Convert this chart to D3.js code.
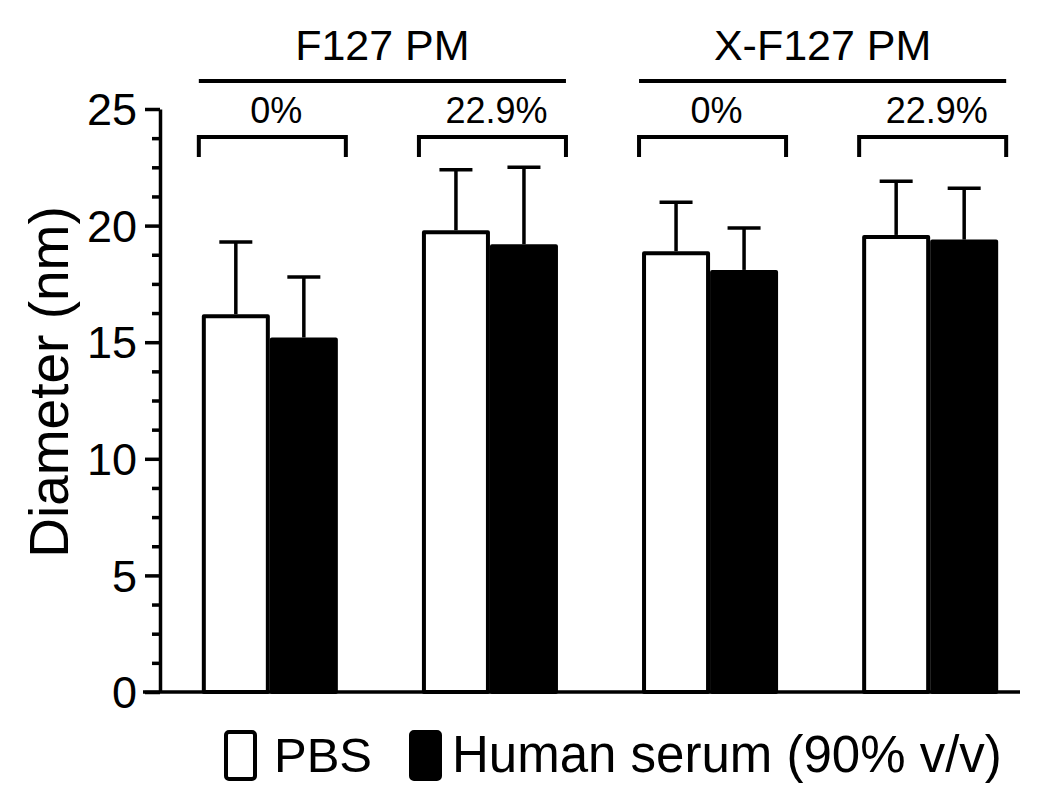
<!DOCTYPE html>
<html>
<head>
<meta charset="utf-8">
<script src="https://cdn.jsdelivr.net/npm/d3@7"></script>
<style>
  body { margin: 0; background: #fff; }
  text { font-family: "Liberation Sans", Arial, Helvetica, sans-serif; fill: #000; }
</style>
</head>
<body>
<div id="chart"></div>
<script>
// data
var families = ['F127 PM', 'X-F127 PM']
var loadings = ['0%', '22.9%', '0%', '22.9%']
var seriesNames = ['PBS', 'Human serum (90% v/v)']
var pbsMean = [16.2, 19.8, 18.9, 19.6]
var pbsSD = [3.1, 2.6, 2.1, 2.3]
var serumMean = [15.2, 19.2, 18.1, 19.4]
var serumSD = [2.6, 3.3, 1.8, 2.2]
var majorTicks = [0, 5, 10, 15, 20, 25]

var width = 1050
var height = 803

var svg = d3.select('#chart').append('svg')
    .attr('width', width)
    .attr('height', height)

var groupIds = loadings.map(function(d, i) { return 'g' + i })

var x = d3.scaleBand()
    .domain(groupIds)
    .range([160, 1040])
    .paddingInner(0.382)
    .paddingOuter(0.19)

var xSeries = d3.scaleBand()
    .domain(seriesNames)
    .range([0, x.bandwidth()])

var y = d3.scaleLinear()
    .domain([0, 25])
    .range([692, 109])

// rows for the bars
var rows = []
groupIds.forEach(function(g, i) {
    rows.push({ group: g, series: seriesNames[0], mean: pbsMean[i], sd: pbsSD[i] })
    rows.push({ group: g, series: seriesNames[1], mean: serumMean[i], sd: serumSD[i] })
})

var color = d3.scaleOrdinal().domain(seriesNames).range(['#fff', '#000'])

// error bars (upper only), drawn first so the bar outline covers the foot
var err = svg.append('g')
err.selectAll('line.v')
    .data(rows)
    .enter().append('line')
    .attr('x1', function(d) { return x(d.group) + xSeries(d.series) + xSeries.bandwidth() / 2 })
    .attr('x2', function(d) { return x(d.group) + xSeries(d.series) + xSeries.bandwidth() / 2 })
    .attr('y1', function(d) { return y(d.mean) })
    .attr('y2', function(d) { return y(d.mean + d.sd) })
    .attr('stroke', '#000')
    .attr('stroke-width', 3.5)
err.selectAll('line.cap')
    .data(rows)
    .enter().append('line')
    .attr('x1', function(d) { return x(d.group) + xSeries(d.series) + xSeries.bandwidth() / 2 - 16.5 })
    .attr('x2', function(d) { return x(d.group) + xSeries(d.series) + xSeries.bandwidth() / 2 + 16.5 })
    .attr('y1', function(d) { return y(d.mean + d.sd) })
    .attr('y2', function(d) { return y(d.mean + d.sd) })
    .attr('stroke', '#000')
    .attr('stroke-width', 3.5)

// bars
svg.append('g').selectAll('rect')
    .data(rows)
    .enter().append('rect')
    .attr('x', function(d) { return x(d.group) + xSeries(d.series) + 2 })
    .attr('y', function(d) { return y(d.mean) + 2 })
    .attr('width', xSeries.bandwidth() - 4)
    .attr('height', function(d) { return y(0) - y(d.mean) - 2 })
    .attr('fill', function(d) { return color(d.series) })
    .attr('stroke', '#000')
    .attr('stroke-width', 4)
    .attr('stroke-linejoin', 'round')

// y axis: minor ticks every 1.25, major every 5
var minorTicks = d3.range(0, 25.01, 1.25).filter(function(v) { return majorTicks.indexOf(v) < 0 })

var minorAxis = svg.append('g')
    .attr('transform', 'translate(160,0)')
    .call(d3.axisLeft(y).tickValues(minorTicks).tickSize(8).tickSizeOuter(0).tickFormat(''))
minorAxis.select('.domain').remove()

var majorAxis = svg.append('g')
    .attr('transform', 'translate(160,0)')
    .call(d3.axisLeft(y).tickValues(majorTicks).tickSize(15).tickSizeOuter(0).tickPadding(8))

svg.selectAll('.tick line').attr('stroke', '#000').attr('stroke-width', 3.5)
majorAxis.select('.domain').attr('stroke', '#000').attr('stroke-width', 3.5)
majorAxis.selectAll('text')
    .attr('font-size', 45)
    .attr('font-family', '"Liberation Sans", Arial, sans-serif')
    .attr('dy', '0.35em')
    .attr('x', -23)

// baseline
svg.append('line')
    .attr('x1', 143).attr('x2', 1020)
    .attr('y1', y(0)).attr('y2', y(0))
    .attr('stroke', '#000')
    .attr('stroke-width', 3.5)

// axis title
svg.append('text')
    .attr('transform', 'translate(68,382) rotate(-90)')
    .attr('text-anchor', 'middle')
    .attr('font-size', 55)
    .text('Diameter (nm)')

// brackets with loading labels
var bracketL = function(g) { return x(g) - 3 }
var bracketR = function(g) { return x(g) + x.bandwidth() + 8 }

svg.append('g').selectAll('path')
    .data(groupIds)
    .enter().append('path')
    .attr('d', function(g) {
        return 'M' + bracketL(g) + ',157V137H' + bracketR(g) + 'V157'
    })
    .attr('fill', 'none')
    .attr('stroke', '#000')
    .attr('stroke-width', 4)

svg.append('g').selectAll('text')
    .data(groupIds)
    .enter().append('text')
    .attr('x', function(g) { return (bracketL(g) + bracketR(g)) / 2 + 4 })
    .attr('y', 123)
    .attr('text-anchor', 'middle')
    .attr('font-size', 36)
    .text(function(g, i) { return loadings[i] })

// family lines and labels
families.forEach(function(f, i) {
    var x1 = bracketL(groupIds[i * 2])
    var x2 = bracketR(groupIds[i * 2 + 1])
    svg.append('line')
        .attr('x1', x1).attr('x2', x2)
        .attr('y1', 81).attr('y2', 81)
        .attr('stroke', '#000')
        .attr('stroke-width', 4)
    svg.append('text')
        .attr('x', (x1 + x2) / 2)
        .attr('y', 60)
        .attr('text-anchor', 'middle')
        .attr('font-size', 43)
        .text(f)
})

// legend
var legendX = [224, 409]
var legendTextX = [274, 452]
var legendSize = [49, 51]
var legend = svg.append('g')
seriesNames.forEach(function(s, i) {
    legend.append('rect')
        .attr('x', legendX[i] + 2)
        .attr('y', 732)
        .attr('width', 29)
        .attr('height', 47)
        .attr('rx', 3)
        .attr('fill', color(s))
        .attr('stroke', '#000')
        .attr('stroke-width', 4)
    legend.append('text')
        .attr('x', legendTextX[i])
        .attr('y', 772)
        .attr('font-size', legendSize[i])
        .text(s)
})
</script>
</body>
</html>
